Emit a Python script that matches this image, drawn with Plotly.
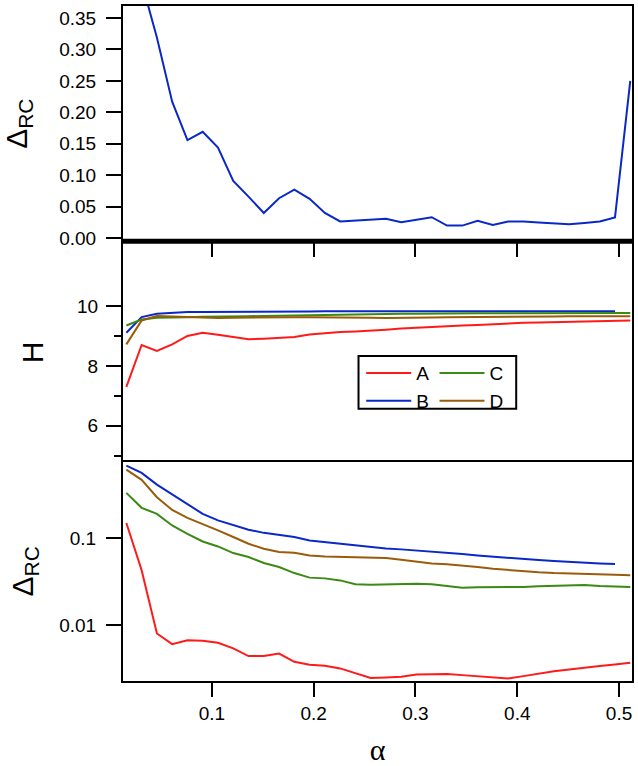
import plotly.graph_objects as go

# alpha grid shared by all three panels
alpha = [0.016, 0.031, 0.046, 0.061, 0.076, 0.091, 0.106, 0.121, 0.136, 0.151,
         0.166, 0.181, 0.196, 0.211, 0.226, 0.241, 0.256, 0.271, 0.286, 0.301,
         0.316, 0.331, 0.346, 0.361, 0.376, 0.391, 0.406, 0.421, 0.436, 0.451,
         0.466, 0.481, 0.496, 0.511]

# top panel: Delta_RC (linear)
delta_top = [0.50, 0.407, 0.319, 0.217, 0.156, 0.169, 0.144, 0.091, 0.066, 0.040,
             0.0635, 0.077, 0.0625, 0.040, 0.0265, 0.028, 0.029, 0.0307, 0.0254, 0.029,
             0.0333, 0.020, 0.020, 0.0276, 0.021, 0.0265, 0.0265, 0.025, 0.0238, 0.022,
             0.024, 0.0265, 0.033, 0.250]

# middle panel: H
H_A = [7.3, 8.7, 8.5, 8.72, 9.0, 9.11, 9.04, 8.96, 8.89, 8.91,
       8.94, 8.97, 9.05, 9.10, 9.13, 9.15, 9.17, 9.21, 9.25, 9.28,
       9.30, 9.33, 9.35, 9.37, 9.40, 9.42, 9.44, 9.45, 9.46, 9.48,
       9.49, 9.50, 9.51, 9.52]
H_B = [9.11, 9.63, 9.74, 9.78, 9.80, 9.80, 9.80, 9.81, 9.81, 9.81,
       9.82, 9.82, 9.82, 9.83, 9.83, 9.83, 9.83, 9.83, 9.83, 9.84,
       9.84, 9.84, 9.84, 9.84, 9.84, 9.84, 9.84, 9.84, 9.84, 9.83,
       9.83, 9.83, 9.83, None]
H_C = [9.35, 9.55, 9.61, 9.63, 9.63, 9.64, 9.64, 9.65, 9.66, 9.67,
       9.68, 9.69, 9.70, 9.71, 9.72, 9.72, 9.73, 9.73, 9.74, 9.74,
       9.75, 9.75, 9.75, 9.76, 9.76, 9.76, 9.76, 9.77, 9.77, 9.77,
       9.77, 9.77, 9.77, 9.77]
H_D = [8.72, 9.52, 9.67, 9.65, 9.62, 9.60, 9.60, 9.61, 9.62, 9.63,
       9.63, 9.63, 9.63, 9.63, 9.63, 9.62, 9.61, 9.60, 9.60, 9.61,
       9.62, 9.63, 9.63, 9.64, 9.64, 9.65, 9.65, 9.65, 9.65, 9.66,
       9.66, 9.66, 9.66, 9.66]

# bottom panel: Delta_RC (log)
d_A = [0.149, 0.0427, 0.00803, 0.00606, 0.00673, 0.00662, 0.00628, 0.00541, 0.00442, 0.00442,
       0.00473, 0.00380, 0.00351, 0.00342, 0.00319, 0.00279, 0.00247, 0.00251, 0.00256, 0.00272,
       0.00275, 0.00275, 0.00267, 0.00260, 0.00256, 0.00245, 0.00260, 0.00279, 0.00295, 0.00310,
       0.00321, 0.00339, 0.00354, 0.00371]
d_B = [0.681, 0.561, 0.412, 0.317, 0.248, 0.190, 0.160, 0.140, 0.125, 0.115,
       0.108, 0.103, 0.094, 0.090, 0.0862, 0.0818, 0.0782, 0.0762, 0.0743, 0.0723,
       0.0704, 0.0680, 0.0656, 0.0633, 0.0617, 0.0596, 0.0575, 0.0560, 0.0545, 0.0531,
       0.0522, 0.0513, 0.0504, None]
d_C = [0.331, 0.223, 0.190, 0.140, 0.112, 0.0916, 0.0803, 0.0674, 0.0607, 0.0518,
       0.0466, 0.0397, 0.0352, 0.0345, 0.0327, 0.0295, 0.0292, 0.0295, 0.0297, 0.0300,
       0.0295, 0.0280, 0.0270, 0.0272, 0.0272, 0.0275, 0.0275, 0.0280, 0.0282, 0.0287,
       0.0290, 0.0282, 0.0278, 0.0275]
d_D = [0.612, 0.467, 0.295, 0.211, 0.171, 0.146, 0.123, 0.103, 0.0862, 0.0755,
       0.0692, 0.068, 0.0633, 0.0617, 0.0612, 0.0606, 0.0601, 0.0590, 0.0565, 0.0536,
       0.0513, 0.0500, 0.0487, 0.0466, 0.0446, 0.0430, 0.0415, 0.0405, 0.0397, 0.0394,
       0.0391, 0.0388, 0.0380, 0.0374]

names = ["A", "B", "C", "D"]
colors = {"A": "#ff1a1a", "B": "#0a28c8", "C": "#3a8a14", "D": "#9a5c0a"}
H_series = {"A": H_A, "B": H_B, "C": H_C, "D": H_D}
d_series = {"A": d_A, "B": d_B, "C": d_C, "D": d_D}

x_ticks = [0.1, 0.2, 0.3, 0.4, 0.5]
x_range = [0.0127, 0.5127]

FONT = "Liberation Sans"

fig = go.Figure()

fig.add_trace(go.Scatter(x=alpha, y=delta_top, mode="lines", xaxis="x3", yaxis="y3",
                         line=dict(color=colors["B"], width=2), showlegend=False))

for n in names:
    fig.add_trace(go.Scatter(x=alpha, y=H_series[n], mode="lines", name=n,
                             xaxis="x2", yaxis="y2",
                             line=dict(color=colors[n], width=2),
                             legend="legend" if n in ("A", "B") else "legend2"))

for n in names:
    fig.add_trace(go.Scatter(x=alpha, y=d_series[n], mode="lines", name=n,
                             xaxis="x", yaxis="y",
                             line=dict(color=colors[n], width=2), showlegend=False))

axis_common = dict(showline=True, linecolor="black", linewidth=2, mirror=True,
                   showgrid=False, zeroline=False, tickcolor="black", tickwidth=2,
                   tickfont=dict(family=FONT, size=19, color="black"))

fig.update_layout(
    width=638, height=766,
    margin=dict(l=123, r=5, t=4, b=85),
    paper_bgcolor="white", plot_bgcolor="white",
    font=dict(family=FONT, color="black"),
    xaxis=dict(axis_common, domain=[0, 1], range=x_range, anchor="y",
               tickvals=x_ticks, ticks="outside", ticklen=14,
               title=dict(text="α", font=dict(family="Liberation Serif", size=30),
                          standoff=16)),
    xaxis4=dict(axis_common, domain=[0, 1], range=x_range, anchor="y", overlaying="x",
                side="top", tickvals=x_ticks, ticks="inside", ticklen=14,
                showticklabels=False, showline=False),
    xaxis2=dict(axis_common, domain=[0, 1], range=x_range, anchor="y2", side="top",
                mirror=False, tickvals=x_ticks, ticks="inside", ticklen=14,
                showticklabels=False),
    xaxis3=dict(axis_common, domain=[0, 1], range=x_range, anchor="y3",
                ticks="", showticklabels=False),
    yaxis=dict(axis_common, domain=[0, 0.325], anchor="x", type="log",
               range=[-2.641, -0.121], tickvals=[0.01, 0.1], ticktext=["0.01", "0.1"],
               ticks="outside", ticklen=15, ticklabelstandoff=6,
               title=dict(text="Δ<sub>RC</sub>", font=dict(size=30), standoff=17)),
    yaxis2=dict(axis_common, domain=[0.325, 0.6485], anchor="x2", range=[4.8, 12.1],
                tickvals=[6, 8, 10], ticks="outside", ticklen=15, ticklabelstandoff=4,
                minor=dict(tickvals=[5, 7, 9], ticks="outside", ticklen=7,
                           tickcolor="black", tickwidth=2),
                title=dict(text="H", font=dict(size=30), standoff=25)),
    yaxis3=dict(axis_common, domain=[0.6514, 1], anchor="x3", range=[-0.005, 0.369],
                tickvals=[0, 0.05, 0.1, 0.15, 0.2, 0.25, 0.3, 0.35], tickformat=".2f",
                ticks="outside", ticklen=15, ticklabelstandoff=6,
                title=dict(text="Δ<sub>RC</sub>", font=dict(size=30), standoff=27)),
    legend=dict(x=0.468, y=0.4842, xanchor="left", yanchor="top",
                font=dict(family=FONT, size=19), bgcolor="rgba(0,0,0,0)",
                tracegroupgap=0, itemwidth=45),
    legend2=dict(x=0.612, y=0.4842, xanchor="left", yanchor="top",
                 font=dict(family=FONT, size=19), bgcolor="rgba(0,0,0,0)",
                 tracegroupgap=0, itemwidth=45),
    shapes=[
        # legend frame
        dict(type="rect", xref="paper", yref="paper", x0=0.4627, x1=0.7725,
             y0=0.4032, y1=0.4815, line=dict(color="black", width=2)),
        # heavy separator between top and middle panels
        dict(type="line", xref="paper", yref="paper", x0=0, x1=1, y0=0.6514, y1=0.6514,
             line=dict(color="black", width=5)),
    ],
)

# drop the browser's default body margin so the figure sits at the window corner
fig.write_html("out.html", config={"displayModeBar": False},
               post_script="document.body.style.margin='0';")
